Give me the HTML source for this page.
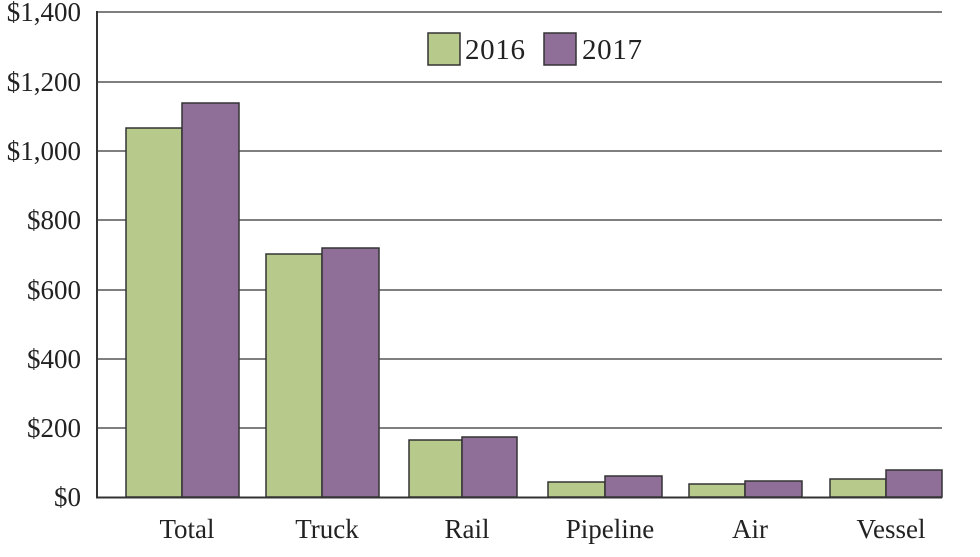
<!DOCTYPE html><html><head><style>body{margin:0;background:#fff}</style></head><body>
<svg width="980" height="552" xmlns="http://www.w3.org/2000/svg" font-family="Liberation Serif, serif" font-size="27" fill="#222">
<g stroke="#333" stroke-width="1.3">
<line x1="97" y1="12" x2="942" y2="12"/><line x1="97" y1="82" x2="942" y2="82"/><line x1="97" y1="151" x2="942" y2="151"/><line x1="97" y1="220" x2="942" y2="220"/><line x1="97" y1="290" x2="942" y2="290"/><line x1="97" y1="359" x2="942" y2="359"/><line x1="97" y1="428" x2="942" y2="428"/>
</g>
<g text-anchor="end">
<text x="81" y="21">$1,400</text><text x="81" y="91">$1,200</text><text x="81" y="160">$1,000</text><text x="81" y="229">$800</text><text x="81" y="299">$600</text><text x="81" y="368">$400</text><text x="81" y="437">$200</text><text x="81" y="506">$0</text>
</g>
<g stroke="#333" stroke-width="1.5">
<rect x="126" y="128" width="56" height="369" fill="#b8c98c"/><rect x="182" y="103" width="57" height="394" fill="#8f6e98"/>
<rect x="266" y="254" width="56" height="243" fill="#b8c98c"/><rect x="322" y="248" width="57" height="249" fill="#8f6e98"/>
<rect x="409" y="440" width="53" height="57" fill="#b8c98c"/><rect x="462" y="437" width="55" height="60" fill="#8f6e98"/>
<rect x="548" y="482" width="57" height="15" fill="#b8c98c"/><rect x="605" y="476" width="57" height="21" fill="#8f6e98"/>
<rect x="689" y="484" width="56" height="13" fill="#b8c98c"/><rect x="745" y="481" width="57" height="16" fill="#8f6e98"/>
<rect x="830" y="479" width="56" height="18" fill="#b8c98c"/><rect x="886" y="470" width="56" height="27" fill="#8f6e98"/>
<rect x="428" y="33" width="32" height="32" fill="#b8c98c"/><rect x="544" y="33" width="32" height="32" fill="#8f6e98"/>
</g>
<line x1="97" y1="11" x2="97" y2="498" stroke="#333" stroke-width="2"/>
<line x1="96" y1="497.5" x2="942" y2="497.5" stroke="#333" stroke-width="2"/>
<text x="465" y="59" font-size="29" textLength="60">2016</text><text x="582" y="59" font-size="29" textLength="60">2017</text>
<g text-anchor="middle">
<text x="187" y="538">Total</text><text x="327" y="538">Truck</text><text x="467" y="538">Rail</text><text x="610" y="538">Pipeline</text><text x="750" y="538">Air</text><text x="891" y="538">Vessel</text>
</g>
</svg></body></html>
